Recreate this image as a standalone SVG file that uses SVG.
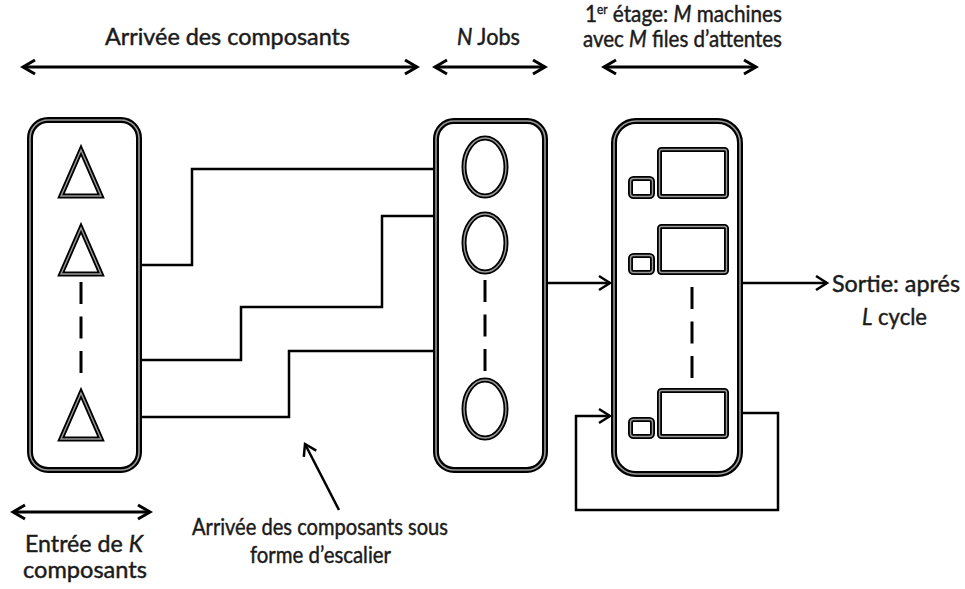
<svg xmlns="http://www.w3.org/2000/svg" width="965" height="589" viewBox="0 0 965 589">
<style>
.txt{font-family:Lato,"Liberation Sans",sans-serif;font-size:23px;fill:#1b1b1b;stroke:#1b1b1b;stroke-width:0.45}
.it{font-style:italic}
.dbl{fill:none;stroke:#000;stroke-width:6}
.dblin{fill:none;stroke:#9a9a9a;stroke-width:1.6}
.sdbl{fill:none;stroke:#000;stroke-width:5}
.sdblin{fill:none;stroke:#9a9a9a;stroke-width:1.4}
.dash{stroke:#000;stroke-width:3;stroke-dasharray:22 12.5;fill:none}
.conn{fill:none;stroke:#000;stroke-width:2.5}
.span{fill:none;stroke:#000;stroke-width:3}
</style>
<defs>
<marker id="chev" markerUnits="userSpaceOnUse" markerWidth="20" markerHeight="20" viewBox="-14 -10 16 20" refX="0" refY="0" orient="auto-start-reverse">
<path d="M -12 -7 L 0 0 L -12 7" fill="none" stroke="#000" stroke-width="3"/>
</marker>
<marker id="chev2" markerUnits="userSpaceOnUse" markerWidth="20" markerHeight="20" viewBox="-14 -10 16 20" refX="0" refY="0" orient="auto">
<path d="M -11 -7 L 0 0 L -11 7" fill="none" stroke="#000" stroke-width="2.5"/>
</marker>
</defs>
<rect width="965" height="589" fill="#fff"/>

<g id="labels">
<text class="txt" x="105" y="45" textLength="245" lengthAdjust="spacingAndGlyphs">Arrivée des composants</text>
<text class="txt" x="457" y="45" textLength="63" lengthAdjust="spacingAndGlyphs"><tspan class="it">N</tspan> Jobs</text>
<text class="txt" x="585" y="22" font-size="21" textLength="197" lengthAdjust="spacingAndGlyphs">1<tspan font-size="13" dy="-8">er</tspan><tspan dy="8"> étage: </tspan><tspan class="it">M</tspan> machines</text>
<text class="txt" x="583" y="47" font-size="21" textLength="199" lengthAdjust="spacingAndGlyphs">avec <tspan class="it">M</tspan> files d’attentes</text>
<text class="txt" x="832" y="292" textLength="128" lengthAdjust="spacingAndGlyphs">Sortie: aprés</text>
<text class="txt" x="862" y="325" textLength="65" lengthAdjust="spacingAndGlyphs"><tspan class="it">L</tspan> cycle</text>
<text class="txt" x="25" y="552" textLength="118" lengthAdjust="spacingAndGlyphs">Entrée de <tspan class="it">K</tspan></text>
<text class="txt" x="23" y="578" textLength="124" lengthAdjust="spacingAndGlyphs">composants</text>
<text class="txt" x="192" y="535" font-size="21" textLength="256" lengthAdjust="spacingAndGlyphs">Arrivée des composants sous</text>
<text class="txt" x="250" y="563" font-size="21" textLength="141" lengthAdjust="spacingAndGlyphs">forme d’escalier</text>
</g>

<g id="spans">
<line class="span" x1="23" y1="67" x2="417" y2="67" marker-start="url(#chev)" marker-end="url(#chev)"/>
<line class="span" x1="435" y1="67" x2="545" y2="67" marker-start="url(#chev)" marker-end="url(#chev)"/>
<line class="span" x1="604" y1="67" x2="756" y2="67" marker-start="url(#chev)" marker-end="url(#chev)"/>
<line class="span" x1="13" y1="512" x2="150" y2="512" marker-start="url(#chev)" marker-end="url(#chev)"/>
</g>

<g id="entree">
<rect class="dbl" x="30" y="120" width="109" height="350" rx="18"/>
<rect class="dblin" x="30" y="120" width="109" height="350" rx="18"/>
<path class="sdbl" d="M81 150 L101 196 L61 196 Z"/>
<path class="sdblin" d="M81 150 L101 196 L61 196 Z"/>
<path class="sdbl" d="M81 228 L101 274 L61 274 Z"/>
<path class="sdblin" d="M81 228 L101 274 L61 274 Z"/>
<path class="sdbl" d="M81 393 L101 439 L61 439 Z"/>
<path class="sdblin" d="M81 393 L101 439 L61 439 Z"/>
<line class="dash" x1="81" y1="282" x2="81" y2="373"/>
</g>

<g id="jobs">
<rect class="dbl" x="436" y="121" width="109" height="349" rx="18"/>
<rect class="dblin" x="436" y="121" width="109" height="349" rx="18"/>
<ellipse class="sdbl" cx="485" cy="167" rx="21" ry="29"/>
<ellipse class="sdblin" cx="485" cy="167" rx="21" ry="29"/>
<ellipse class="sdbl" cx="485" cy="243" rx="21" ry="29"/>
<ellipse class="sdblin" cx="485" cy="243" rx="21" ry="29"/>
<ellipse class="sdbl" cx="485" cy="409" rx="21" ry="29"/>
<ellipse class="sdblin" cx="485" cy="409" rx="21" ry="29"/>
<line class="dash" x1="485" y1="280" x2="485" y2="371"/>
</g>

<g id="machines">
<rect class="dbl" x="614" y="121" width="126" height="353" rx="22"/>
<rect class="dblin" x="614" y="121" width="126" height="353" rx="22"/>
<rect class="sdbl" x="659.5" y="149.5" width="67" height="47" rx="2"/>
<rect class="sdblin" x="659.5" y="149.5" width="67" height="47" rx="2"/>
<rect class="sdbl" x="630.5" y="178.5" width="22" height="18" rx="3"/>
<rect class="sdblin" x="630.5" y="178.5" width="22" height="18" rx="3"/>
<rect class="sdbl" x="659.5" y="226.5" width="67" height="46" rx="2"/>
<rect class="sdblin" x="659.5" y="226.5" width="67" height="46" rx="2"/>
<rect class="sdbl" x="630.5" y="255.5" width="22" height="17" rx="3"/>
<rect class="sdblin" x="630.5" y="255.5" width="22" height="17" rx="3"/>
<rect class="sdbl" x="659.5" y="390.5" width="67" height="46" rx="2"/>
<rect class="sdblin" x="659.5" y="390.5" width="67" height="46" rx="2"/>
<rect class="sdbl" x="630.5" y="419.5" width="22" height="17" rx="3"/>
<rect class="sdblin" x="630.5" y="419.5" width="22" height="17" rx="3"/>
<line class="dash" x1="692" y1="287" x2="692" y2="378"/>
</g>

<g id="connectors">
<path class="conn" d="M142 265 H192 V169 H433"/>
<path class="conn" d="M142 360 H241 V307 H382 V216 H433"/>
<path class="conn" d="M142 417 H289 V351 H433"/>
<line class="conn" x1="548" y1="283" x2="610" y2="283" marker-end="url(#chev2)"/>
<line class="conn" x1="743" y1="283" x2="827" y2="283" marker-end="url(#chev2)"/>
<path class="conn" d="M743 413 H778 V510 H576 V416 H610" marker-end="url(#chev2)"/>
<line class="conn" x1="339" y1="510" x2="305" y2="444" marker-end="url(#chev2)"/>
</g>
</svg>
